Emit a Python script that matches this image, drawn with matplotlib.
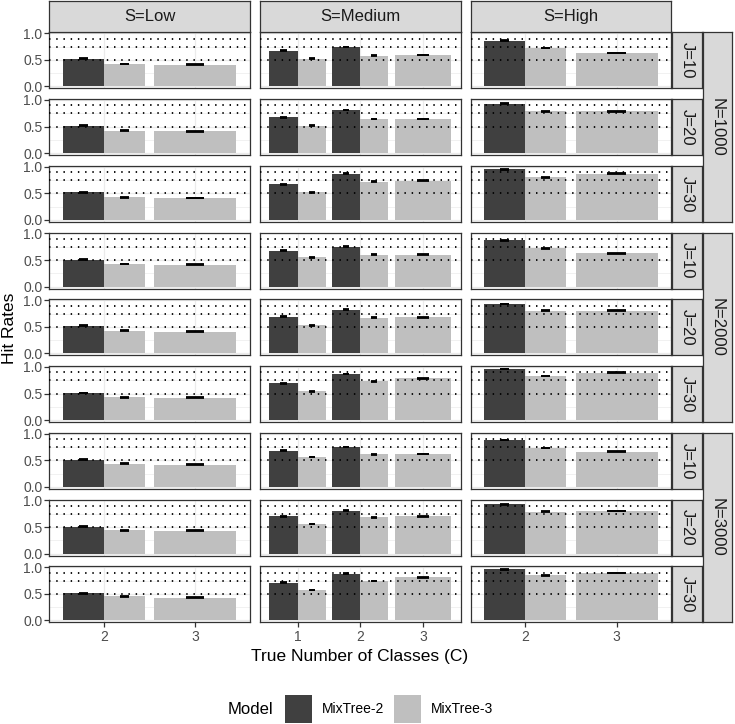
import matplotlib
matplotlib.use("Agg")
import matplotlib.pyplot as plt
from matplotlib.patches import Rectangle

plt.rcParams['font.family'] = ['Liberation Sans', 'DejaVu Sans']

# ---------------- data ----------------
S_levels = ["Low", "Medium", "High"]
N_levels = [1000, 2000, 3000]
J_levels = [10, 20, 30]
models = ["MixTree-2", "MixTree-3"]
classes_low = [2, 3]
classes_medium = [1, 2, 3]
classes_high = [2, 3]

# rows: (N=1000: J=10,20,30), (N=2000: J=10,20,30), (N=3000: J=10,20,30)
low_mt2_c2 = [0.52, 0.52, 0.52, 0.51, 0.52, 0.51, 0.51, 0.51, 0.51]
low_mt3_c2 = [0.42, 0.42, 0.425, 0.425, 0.425, 0.43, 0.44, 0.44, 0.45]
low_mt3_c3 = [0.41, 0.41, 0.41, 0.41, 0.41, 0.42, 0.42, 0.43, 0.43]

med_mt2_c1 = [0.67, 0.675, 0.67, 0.675, 0.69, 0.69, 0.68, 0.70, 0.71]
med_mt3_c1 = [0.52, 0.52, 0.52, 0.55, 0.53, 0.54, 0.56, 0.56, 0.57]
med_mt2_c2 = [0.74, 0.81, 0.87, 0.75, 0.82, 0.87, 0.75, 0.81, 0.88]
med_mt3_c2 = [0.58, 0.64, 0.72, 0.60, 0.67, 0.73, 0.61, 0.68, 0.74]
med_mt3_c3 = [0.59, 0.64, 0.74, 0.60, 0.68, 0.79, 0.62, 0.70, 0.81]

high_mt2_c2 = [0.86, 0.93, 0.95, 0.87, 0.93, 0.96, 0.88, 0.93, 0.96]
high_mt3_c2 = [0.72, 0.79, 0.80, 0.72, 0.80, 0.83, 0.73, 0.79, 0.85]
high_mt3_c3 = [0.63, 0.79, 0.87, 0.63, 0.80, 0.89, 0.66, 0.80, 0.89]

err_half = 0.007
ref_lines = [0.5, 0.75, 0.9]

# structure: per column, list of (class position index, {model: values})
panels = {
    "Low": (classes_low, [
        (0, {"MixTree-2": low_mt2_c2, "MixTree-3": low_mt3_c2}),
        (1, {"MixTree-3": low_mt3_c3}),
    ]),
    "Medium": (classes_medium, [
        (0, {"MixTree-2": med_mt2_c1, "MixTree-3": med_mt3_c1}),
        (1, {"MixTree-2": med_mt2_c2, "MixTree-3": med_mt3_c2}),
        (2, {"MixTree-3": med_mt3_c3}),
    ]),
    "High": (classes_high, [
        (0, {"MixTree-2": high_mt2_c2, "MixTree-3": high_mt3_c2}),
        (1, {"MixTree-3": high_mt3_c3}),
    ]),
}

colors = {"MixTree-2": "#404040", "MixTree-3": "#BFBFBF"}
GREY20 = "#333333"
GRID = "#EBEBEB"
STRIP = "#D9D9D9"

W, H = 735, 724
fig = plt.figure(figsize=(W / 100, H / 100), dpi=100)


def px_axes(left, top, w, h):
    return fig.add_axes([left / W, 1 - (top + h) / H, w / W, h / H])


col_left = [49.3, 260.0, 470.7]
col_w = 200.5
row_top0 = 32.3
row_pitch = 66.75
row_h = 56.0
ylo, yhi = -0.035, 1.017

for r in range(9):
    top = row_top0 + r * row_pitch
    for c, S in enumerate(S_levels):
        cls, groups = panels[S]
        ax = px_axes(col_left[c], top, col_w, row_h)
        ncls = len(cls)
        ax.set_xlim(0.4, ncls + 0.6)
        ax.set_ylim(ylo, yhi)
        # grid
        for y in [0.0, 0.5, 1.0]:
            ax.axhline(y, color=GRID, lw=0.9, zorder=0)
        for y in [0.25, 0.75]:
            ax.axhline(y, color=GRID, lw=0.5, zorder=0)
        for i in range(ncls):
            ax.axvline(i + 1, color=GRID, lw=0.9, zorder=0)
        # bars
        for (ci, mvals) in groups:
            pos = ci + 1
            present = [m for m in models if m in mvals]
            n = len(present)
            bw = 0.9 / n
            for k, m in enumerate(present):
                x = pos - 0.45 + bw * (k + 0.5)
                v = mvals[m][r]
                ax.bar(x, v, width=bw, color=colors[m], zorder=2, linewidth=0)
                ew = 0.2 / n
                ax.vlines(x, v - err_half, v + err_half, color="black", lw=1.3, zorder=4)
                ax.hlines([v - err_half, v + err_half], x - ew / 2, x + ew / 2,
                          color="black", lw=1.3, zorder=4)
        for y in ref_lines:
            ax.axhline(y, color="black", lw=1.3, linestyle=(0, (0.8, 3.2)), zorder=3)
        for sp in ax.spines.values():
            sp.set_color(GREY20)
            sp.set_linewidth(0.9)
        ax.set_yticks([0.0, 0.5, 1.0])
        ax.set_yticklabels(["0.0", "0.5", "1.0"] if c == 0 else [])
        ax.tick_params(axis='y', length=3.5 if c == 0 else 0, width=0.9, color=GREY20,
                       labelsize=10, labelcolor="#4D4D4D", pad=1.5)
        ax.set_xticks(range(1, ncls + 1))
        if r == 8:
            ax.set_xticklabels([str(v) for v in cls])
            ax.tick_params(axis='x', length=3.5, width=0.9, color=GREY20,
                           labelsize=10, labelcolor="#4D4D4D", pad=2)
        else:
            ax.set_xticklabels([])
            ax.tick_params(axis='x', length=0)
        ax.set_facecolor("white")


def strip(left, top, w, h, text, rot=0, size=12.0):
    sa = px_axes(left, top, w, h)
    sa.set_facecolor(STRIP)
    sa.set_xticks([])
    sa.set_yticks([])
    for sp in sa.spines.values():
        sp.set_color(GREY20)
        sp.set_linewidth(0.9)
    sa.text(0.5, 0.5, text, ha="center", va="center", rotation=rot,
            fontsize=size, color="#1A1A1A", transform=sa.transAxes)


for c, S in enumerate(S_levels):
    strip(col_left[c], 0.8, col_w, 30.9, f"S={S}")

for r in range(9):
    top = row_top0 + r * row_pitch
    strip(672.3, top, 29.4, row_h, f"J={J_levels[r % 3]}", rot=270)

for g in range(3):
    top = row_top0 + 3 * g * row_pitch
    h = 2 * row_pitch + row_h
    strip(702.7, top, 29.6, h, f"N={N_levels[g]}", rot=270)

# axis titles
fig.text(10 / W, 1 - 328 / H, "Hit Rates", rotation=90, ha="center", va="center",
         fontsize=12.5, color="black")
fig.text(360 / W, 1 - 657 / H, "True Number of Classes (C)", ha="center", va="center",
         fontsize=12.5, color="black")

# legend
fig.text(228 / W, 1 - 709 / H, "Model", ha="left", va="center", fontsize=12, color="black")
leg_items = [(285, "MixTree-2", 321.5), (394, "MixTree-3", 430.5)]
for (kx, lab, tx), m in zip(leg_items, models):
    la = px_axes(kx, 695, 27, 28)
    la.set_axis_off()
    la.add_patch(Rectangle((0, 0), 1, 1, facecolor=colors[m], edgecolor="none",
                           transform=la.transAxes))
    fig.text(tx / W, 1 - 709 / H, lab, ha="left", va="center", fontsize=10, color="black")

fig.savefig("out.png", dpi=100)
